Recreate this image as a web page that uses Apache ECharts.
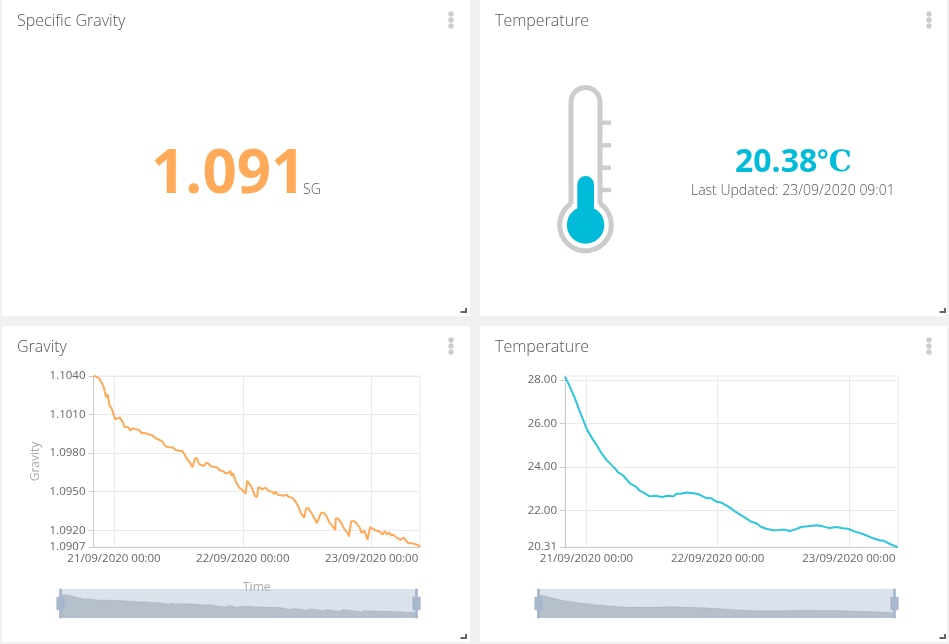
<!DOCTYPE html>
<html>
<head>
    <meta charset="utf-8">
    <script src="https://cdn.jsdelivr.net/npm/echarts@6/dist/echarts.min.js"></script>
    <style>
        html, body { margin: 0; padding: 0; background: #f1f1f1; }
        #main { width: 949px; height: 644px; }
    </style>
</head>
<body>
<div id="main"></div>
<script type="text/javascript">
    // hours relative to 21/09/2020 00:00
    var gravityHours = [-3.82, -3.30, -2.80, -2.30, -1.93, -1.62, -1.43, -1.24, -1.06, -0.81, -0.44, -0.06, 0.25, 0.68, 1.06, 1.37, 1.68, 1.93, 2.30, 2.67, 3.05, 3.42, 3.86, 4.17, 4.67, 5.16, 5.72, 6.34, 6.97, 7.59, 8.21, 9.02, 9.52, 10.08, 10.39, 11.01, 11.51, 12.13, 12.75, 13.19, 13.62, 14.12, 14.62, 14.87, 15.11, 15.49, 15.80, 16.17, 16.73, 17.23, 17.66, 18.16, 18.60, 19.10, 19.41, 19.84, 20.34, 20.71, 21.27, 21.71, 21.89, 22.21, 22.39, 22.83, 23.45, 24.07, 24.51, 24.82, 25.13, 25.63, 26.25, 26.68, 26.87, 27.24, 27.74, 28.24, 28.73, 29.36, 29.85, 30.10, 30.60, 31.10, 31.72, 32.22, 32.47, 33.21, 33.84, 34.34, 34.83, 35.45, 35.76, 36.20, 36.82, 37.32, 37.82, 38.19, 38.56, 39.06, 39.56, 40.24, 40.87, 41.24, 41.30, 41.80, 42.30, 42.92, 43.55, 43.80, 44.17, 44.67, 45.17, 45.85, 46.16, 46.66, 47.22, 47.47, 47.72, 48.34, 48.97, 49.59, 50.03, 50.52, 50.90, 51.27, 51.65, 52.08, 52.52, 52.89, 53.39, 54.01, 54.38, 54.88, 55.50, 56.12, 56.74, 57.02];
    var gravityValues = [1.1040, 1.10395, 1.10384, 1.10348, 1.10317, 1.1026, 1.10234, 1.1026, 1.10226, 1.10167, 1.10149, 1.10097, 1.10063, 1.10071, 1.10079, 1.10058, 1.10037, 1.10006, 1.10011, 1.10001, 1.09975, 1.09993, 1.09988, 1.09993, 1.0998, 1.09955, 1.09957, 1.09947, 1.09942, 1.09921, 1.09908, 1.0989, 1.09856, 1.09846, 1.09856, 1.09843, 1.09825, 1.09817, 1.09817, 1.09786, 1.09752, 1.09729, 1.0969, 1.09695, 1.09758, 1.0976, 1.09716, 1.09716, 1.097, 1.09727, 1.09716, 1.09695, 1.09695, 1.0969, 1.09695, 1.09664, 1.09662, 1.09644, 1.09644, 1.09662, 1.09623, 1.09644, 1.09613, 1.09566, 1.09527, 1.09509, 1.09483, 1.09587, 1.09584, 1.09535, 1.09468, 1.09457, 1.09535, 1.09527, 1.09519, 1.09532, 1.09509, 1.09501, 1.09483, 1.09501, 1.09475, 1.09473, 1.09468, 1.09478, 1.09462, 1.09452, 1.09424, 1.09385, 1.09333, 1.09299, 1.09369, 1.09374, 1.09333, 1.09294, 1.09255, 1.0926, 1.09333, 1.09338, 1.09312, 1.09255, 1.09224, 1.09203, 1.09294, 1.09289, 1.0926, 1.09209, 1.09178, 1.09152, 1.09268, 1.09273, 1.09255, 1.09216, 1.09178, 1.09198, 1.09126, 1.09118, 1.09224, 1.09209, 1.09196, 1.09188, 1.09167, 1.09193, 1.09167, 1.09183, 1.0916, 1.09165, 1.09147, 1.09152, 1.09126, 1.09144, 1.09118, 1.091, 1.091, 1.09092, 1.09084, 1.0907];
    var temperatureHours = [-3.93, -3.05, -2.13, -1.22, -0.61, 0.12, 1.22, 1.95, 2.74, 3.65, 4.57, 5.18, 5.79, 6.70, 7.92, 9.14, 9.75, 10.66, 11.57, 12.49, 13.83, 14.92, 15.96, 16.45, 17.36, 18.27, 19.49, 20.40, 21.93, 22.84, 23.88, 24.67, 25.89, 27.10, 28.32, 29.24, 30.15, 31.06, 31.98, 32.89, 34.11, 35.33, 36.24, 37.16, 38.07, 39.29, 40.50, 42.15, 43.24, 44.46, 45.80, 46.90, 47.81, 49.03, 50.55, 52.08, 53.60, 54.33, 55.43, 56.65, 57.00];
    var temperatureValues = [28.15, 27.69, 27.16, 26.54, 26.16, 25.70, 25.24, 24.97, 24.63, 24.32, 24.09, 23.94, 23.74, 23.60, 23.25, 23.07, 22.90, 22.78, 22.64, 22.67, 22.61, 22.67, 22.64, 22.76, 22.76, 22.82, 22.78, 22.75, 22.56, 22.55, 22.39, 22.35, 22.18, 21.96, 21.77, 21.63, 21.47, 21.40, 21.23, 21.15, 21.08, 21.09, 21.11, 21.05, 21.11, 21.23, 21.26, 21.31, 21.26, 21.18, 21.23, 21.17, 21.15, 21.03, 20.91, 20.75, 20.62, 20.60, 20.46, 20.33, 20.31];

    var gravityTicks = [1.0907, 1.0920, 1.0950, 1.0980, 1.1010, 1.1040];
    var temperatureTicks = [20.31, 22, 24, 26, 28];
    var gravityRange = [1.0907, 1.1040];
    var temperatureRange = [20.31, 28.18];
    var dayTicks = ['2020-09-21T00:00:00', '2020-09-22T00:00:00', '2020-09-23T00:00:00'];

    var BASE = new Date(2020, 8, 21).getTime();
    var HOUR = 3600000;
    var font = '"Open Sans", sans-serif';
    var dayMs = dayTicks.map(function (d) { return new Date(d).getTime(); });

    function pairs(hours, values) {
        return hours.map(function (h, i) { return [BASE + h * HOUR, values[i]]; });
    }

    function xAxis(idx, start, end, name) {
        return {
            type: 'time',
            gridIndex: idx,
            min: BASE + start * HOUR,
            max: BASE + end * HOUR,
            name: name,
            nameLocation: 'middle',
            nameGap: 35,
            nameTextStyle: { color: '#aaa', fontFamily: font, fontSize: 12 },
            axisLine: { lineStyle: { color: '#ccc' } },
            axisTick: { show: false, customValues: dayMs },
            axisLabel: {
                customValues: dayMs,
                color: '#666',
                fontFamily: font,
                fontSize: 11.5,
                margin: 6,
                hideOverlap: false,
                formatter: '{dd}/{MM}/{yyyy} {HH}:{mm}'
            },
            splitLine: { show: true, lineStyle: { color: '#eaeaea' } }
        };
    }

    function yAxis(idx, range, ticks, digits, name) {
        return {
            type: 'value',
            gridIndex: idx,
            min: range[0],
            max: range[1],
            name: name,
            nameLocation: 'middle',
            nameGap: 52,
            nameTextStyle: { color: '#aaa', fontFamily: font, fontSize: 12 },
            axisLine: { show: true, lineStyle: { color: '#ccc' } },
            axisTick: { show: true, length: 5, customValues: ticks, lineStyle: { color: '#ccc' } },
            axisLabel: {
                customValues: ticks,
                color: '#666',
                fontFamily: font,
                fontSize: 11.5,
                margin: 8,
                formatter: function (v) { return v.toFixed(digits); }
            },
            splitLine: { show: true, lineStyle: { color: '#eaeaea' } }
        };
    }

    function slider(idx, left) {
        return {
            type: 'slider',
            xAxisIndex: idx,
            left: left,
            width: 358,
            top: 589,
            height: 29,
            start: 0,
            end: 100,
            z: 6,
            showDetail: false,
            moveHandleSize: 0,
            brushSelect: false,
            backgroundColor: 'rgba(47,69,84,0)',
            borderColor: 'transparent',
            fillerColor: 'rgba(167,183,204,0.4)',
            handleIcon: 'M8.2,13.6V3.9H6.3v9.7H3.1v14.9h3.3v9.7h1.8v-9.7h3.3V13.6H8.2z M9.7,24.4H4.8v-1.4h4.9V24.4z M9.7,19.1H4.8v-1.4h4.9V19.1z',
            handleSize: '100%',
            handleStyle: { color: '#a7b7cc', borderColor: '#a7b7cc' },
            dataBackground: {
                lineStyle: { color: '#2f4554', opacity: 0.3, width: 0.5 },
                areaStyle: { color: '#2f4554', opacity: 0.3 }
            },
            selectedDataBackground: {
                lineStyle: { color: '#2f4554', opacity: 0.3, width: 0.5 },
                areaStyle: { color: '#2f4554', opacity: 0.3 }
            }
        };
    }

    function lineSeries(idx, name, data, color) {
        return {
            type: 'line',
            name: name,
            xAxisIndex: idx,
            yAxisIndex: idx,
            data: data,
            showSymbol: false,
            lineStyle: { color: color, width: 2 },
            itemStyle: { color: color }
        };
    }

    // dashboard furniture: cards, titles, menu dots, resize corners
    var panels = [[2, 0, 468, 316], [480, 0, 467, 316], [2, 326, 468, 316], [480, 326, 467, 316]];
    var titles = ['Specific Gravity', 'Temperature', 'Gravity', 'Temperature'];
    var furniture = [];
    panels.forEach(function (p, i) {
        var dotX = p[0] === 2 ? 451 : 929;
        var cornerX = p[0] === 2 ? 466 : 945;
        furniture.push({ type: 'rect', z: -10, silent: true, shape: { x: p[0], y: p[1], width: p[2], height: p[3] }, style: { fill: '#fff' } });
        furniture.push({ type: 'text', x: p[0] + 15, y: p[1] + 13, style: { text: titles[i], font: '300 16px "Open Sans"', fill: '#555' } });
        [14, 20, 26].forEach(function (dy) {
            furniture.push({ type: 'circle', shape: { cx: dotX, cy: p[1] + dy, r: 2.7 }, style: { fill: '#ccc' } });
        });
        furniture.push({ type: 'polyline', shape: { points: [[cornerX, p[1] + p[3] - 8], [cornerX, p[1] + p[3] - 4], [cornerX - 5.5, p[1] + p[3] - 4]] }, style: { stroke: '#666', fill: null, lineWidth: 2 } });
    });

    // specific gravity readout
    furniture.push({ type: 'text', x: 151, y: 146, style: { text: '1.091', font: 'bold 60px "Open Sans"', fill: '#ffaa58' } });
    furniture.push({ type: 'text', x: 303, y: 183, style: { text: 'SG', font: '300 14px "Open Sans"', fill: '#555' } });

    // thermometer
    var glass = { stroke: '#ccc', fill: null, lineWidth: 5 };
    furniture.push({ type: 'arc', shape: { cx: 585.5, cy: 102, r: 14.5, startAngle: Math.PI, endAngle: 2 * Math.PI, clockwise: true }, style: glass });
    furniture.push({ type: 'arc', shape: { cx: 585.5, cy: 225, r: 25.8, startAngle: -0.973, endAngle: 4.115, clockwise: true }, style: glass });
    furniture.push({ type: 'line', shape: { x1: 571, y1: 102, x2: 571, y2: 204 }, style: glass });
    furniture.push({ type: 'line', shape: { x1: 600, y1: 102, x2: 600, y2: 204 }, style: glass });
    [122.7, 145.3, 167.7, 190].forEach(function (y) {
        furniture.push({ type: 'rect', shape: { x: 602, y: y - 2.2, width: 9, height: 4.4 }, style: { fill: '#ccc' } });
    });
    furniture.push({ type: 'rect', shape: { x: 577.3, y: 176, width: 16.7, height: 40, r: [8.3, 8.3, 0, 0] }, style: { fill: '#00bcd9' } });
    furniture.push({ type: 'circle', shape: { cx: 585.6, cy: 225, r: 18.7 }, style: { fill: '#00bcd9' } });
    furniture.push({ type: 'text', x: 735, y: 147, style: { text: '20.38', font: 'bold 32px "Open Sans"', fill: '#00bcd9' } });
    furniture.push({ type: 'text', x: 817, y: 149, style: { text: '\u2103', font: 'bold 29px "DejaVu Serif"', fill: '#00bcd9' } });
    furniture.push({ type: 'text', x: 691, y: 184, style: { text: 'Last Updated: 23/09/2020 09:01', font: '300 14px "Open Sans"', fill: '#555' } });

    var myChart = echarts.init(document.getElementById('main'));
    var opt = {
        animation: false,
        backgroundColor: 'transparent',
        graphic: { elements: furniture },
        grid: [
            { left: 93.5, right: 529, top: 376, bottom: 97, show: true, borderColor: '#eaeaea', backgroundColor: 'transparent' },
            { left: 565, right: 51, top: 376, bottom: 97, show: true, borderColor: '#eaeaea', backgroundColor: 'transparent' }
        ],
        xAxis: [xAxis(0, -3.82, 57.02, 'Time'), xAxis(1, -3.93, 57.0, '')],
        yAxis: [yAxis(0, gravityRange, gravityTicks, 4, 'Gravity'), yAxis(1, temperatureRange, temperatureTicks, 2, '')],
        dataZoom: [slider(0, 57), slider(1, 535)],
        series: [
            lineSeries(0, 'Gravity', pairs(gravityHours, gravityValues), '#ffaa58'),
            lineSeries(1, 'Temperature', pairs(temperatureHours, temperatureValues), '#2cc6dd')
        ]
    };
    myChart.setOption(opt);
</script>
</body>
</html>
